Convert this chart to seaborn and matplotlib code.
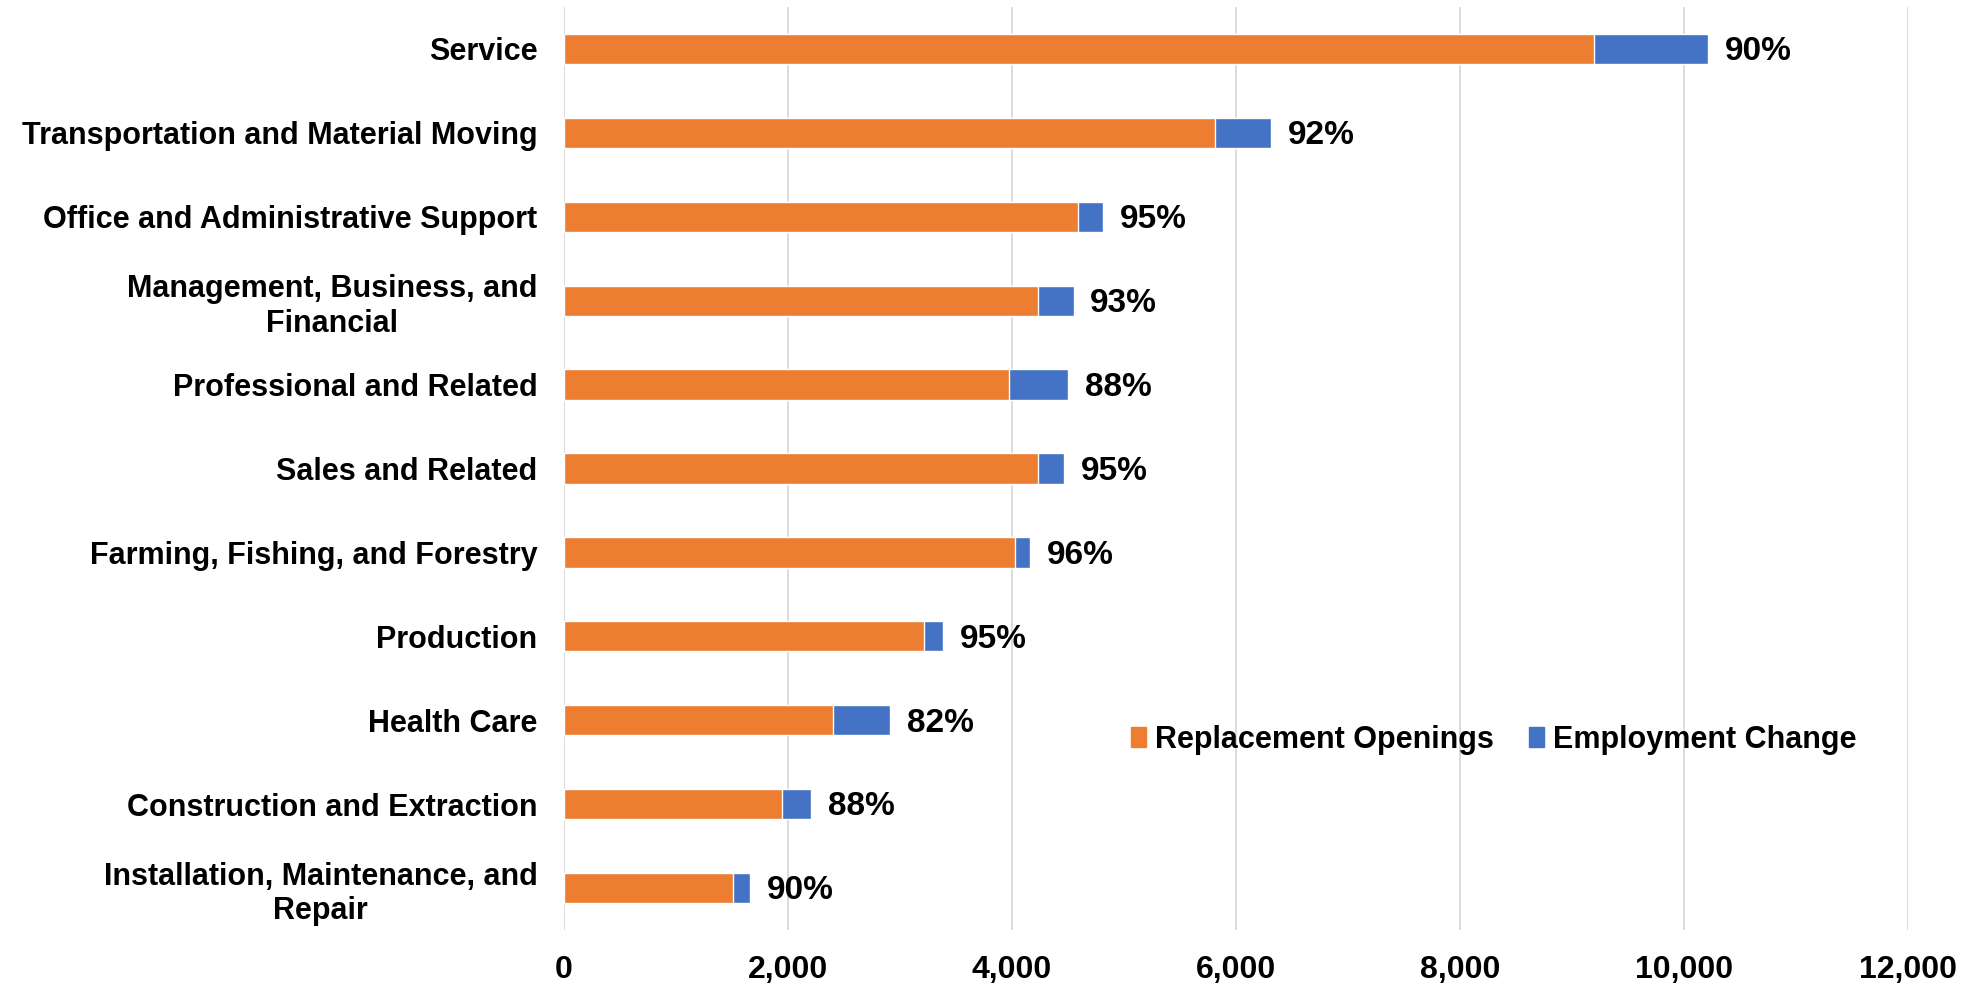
import matplotlib
matplotlib.use("Agg")
import matplotlib.pyplot as plt
import seaborn as sns
import pandas as pd
from matplotlib.patches import Patch

# occupational groups, top to bottom
groups = [
    "Service",
    "Transportation and Material Moving",
    "Office and Administrative Support",
    "Management, Business, and\nFinancial",
    "Professional and Related",
    "Sales and Related",
    "Farming, Fishing, and Forestry",
    "Production",
    "Health Care",
    "Construction and Extraction",
    "Installation, Maintenance, and\nRepair",
]
replacement = [9200, 5810, 4590, 4230, 3970, 4230, 4025, 3215, 2400, 1945, 1505]
emp_change = [1015, 505, 220, 320, 530, 235, 140, 170, 510, 260, 155]
share_labels = ["90%", "92%", "95%", "93%", "88%", "95%", "96%", "95%", "82%", "88%", "90%"]
x_ticks = [0, 2000, 4000, 6000, 8000, 10000, 12000]

orange = "#ED7D31"
blue = "#4472C4"

df = pd.DataFrame({"group": groups, "replacement": replacement, "change": emp_change})
df["total"] = df["replacement"] + df["change"]

sns.set_style("white")
plt.rcParams["font.family"] = ["Liberation Sans", "DejaVu Sans"]
plt.rcParams["font.weight"] = "bold"
plt.rcParams["text.color"] = "black"
plt.rcParams["xtick.color"] = "black"
plt.rcParams["ytick.color"] = "black"

fig = plt.figure(figsize=(19.67, 9.84), dpi=100)
ax = fig.add_axes([564 / 1967, 1 - 930 / 984, (1908 - 564) / 1967, (930 - 7) / 984])

# blue = full total, orange drawn over it = replacement part
sns.barplot(data=df, x="total", y="group", color=blue, width=0.36, saturation=1, ax=ax, zorder=2)
sns.barplot(data=df, x="replacement", y="group", color=orange, width=0.36, saturation=1, ax=ax, zorder=3)

for i, (tot, lab) in enumerate(zip(df["total"], share_labels)):
    ax.annotate(lab, (tot, i), xytext=(12, -2), textcoords="offset points",
                ha="left", va="center", fontsize=24, fontweight="bold", color="black")

ax.set_xlim(0, 12000)
ax.set_xticks(x_ticks)
ax.set_xticklabels([f"{v:,}" for v in x_ticks], fontsize=23, fontweight="bold", color="black")
ax.set_xlabel("")
ax.set_ylabel("")
for t in ax.get_yticklabels():
    t.set_fontsize(22)
    t.set_fontweight("bold")
    t.set_color("black")
    t.set_multialignment("center")
ax.tick_params(axis="y", length=0, pad=19)
ax.tick_params(axis="x", length=0, pad=18)
ax.grid(axis="x", color="#D9D9D9", linewidth=1.3, zorder=0)
ax.grid(axis="y", visible=False)
for s in ax.spines.values():
    s.set_visible(False)

handles = [Patch(color=orange, label="Replacement Openings"),
           Patch(color=blue, label="Employment Change")]
fig.legend(handles=handles, loc="center left", bbox_to_anchor=(1103 / 1967, 0.248),
           ncol=2, frameon=False, handlelength=0.5, handleheight=0.6,
           handletextpad=0.3, columnspacing=1.15, prop={"weight": "bold", "size": 22})

fig.savefig("out.png", dpi=100)
